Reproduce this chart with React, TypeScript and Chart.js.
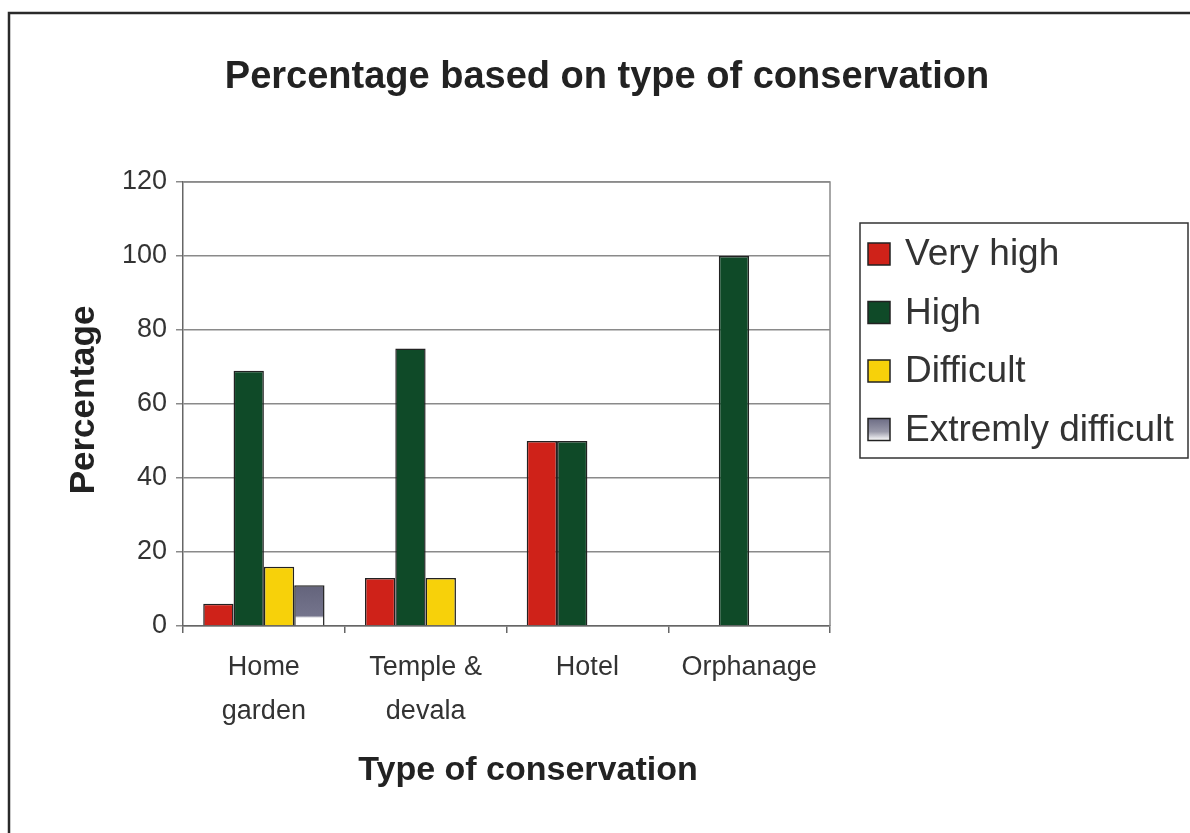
import React, { useEffect, useRef } from "react";
import { Chart, registerables } from "chart.js";

Chart.register(...registerables);

const categories: (string | string[])[] = [["Home", "garden"], ["Temple &", "devala"], "Hotel", "Orphanage"];
const seriesNames = ["Very high", "High", "Difficult", "Extremly difficult"];
const veryHigh = [6, 13, 50, 0];
const high = [69, 75, 50, 100];
const difficult = [16, 13, 0, 0];
const extremelyDifficult = [11, 0, 0, 0];
const yTicks = [0, 20, 40, 60, 80, 100, 120];

const FONT = "'Liberation Sans', Arial, Helvetica, sans-serif";
const colors = ["#cf2219", "#0f4a28", "#f7d10a", "#6c6c84"];

const decorPlugin = {
  id: "decor",
  beforeDraw(chart: any) {
    const { ctx } = chart;
    ctx.save();
    ctx.fillStyle = "#ffffff";
    ctx.fillRect(0, 0, chart.width, chart.height);
    ctx.strokeStyle = "#2a2a2a";
    ctx.lineWidth = 2.5;
    ctx.strokeRect(9, 13, 1200, 840);
    ctx.restore();
  },
  afterDraw(chart: any) {
    const { ctx, chartArea } = chart;
    ctx.save();
    ctx.strokeStyle = "#8a8a8a";
    ctx.lineWidth = 1.5;
    ctx.beginPath();
    ctx.moveTo(chartArea.left, chartArea.top);
    ctx.lineTo(chartArea.right, chartArea.top);
    ctx.lineTo(chartArea.right, chartArea.bottom);
    ctx.stroke();

    ctx.fillStyle = "#222222";
    ctx.textAlign = "center";
    ctx.textBaseline = "middle";
    ctx.font = `bold 38px ${FONT}`;
    ctx.fillText("Percentage based on type of conservation", 607, 78);
    ctx.font = `bold 34px ${FONT}`;
    ctx.fillText("Type of conservation", 528, 771);
    ctx.font = `bold 35px ${FONT}`;
    ctx.save();
    ctx.translate(84, 400);
    ctx.rotate(-Math.PI / 2);
    ctx.fillText("Percentage", 0, 0);
    ctx.restore();

    const lx = 860, ly = 223, lw = 328, lh = 235;
    ctx.strokeStyle = "#333333";
    ctx.lineWidth = 1.5;
    ctx.strokeRect(lx, ly, lw, lh);
    ctx.font = `37px ${FONT}`;
    ctx.textAlign = "left";
    chart.data.datasets.forEach((ds: any, i: number) => {
      const cy = ly + 31 + i * 58.5;
      const sx = lx + 8, sy = cy - 11, ss = 22;
      if (i === 3) {
        const g = ctx.createLinearGradient(0, sy, 0, sy + ss);
        g.addColorStop(0, colors[3]);
        g.addColorStop(0.6, "#9a9aaa");
        g.addColorStop(1, "#ffffff");
        ctx.fillStyle = g;
      } else {
        ctx.fillStyle = colors[i];
      }
      ctx.fillRect(sx, sy, ss, ss);
      ctx.strokeStyle = "#222222";
      ctx.lineWidth = 1.5;
      ctx.strokeRect(sx, sy, ss, ss);
      ctx.fillStyle = "#333333";
      ctx.fillText(ds.label, lx + 45, cy + 1);
    });
    ctx.restore();
  },
};

function grayGradient(context: any) {
  const chart = context.chart;
  const { chartArea, scales } = chart;
  if (!chartArea || context.raw == null) return colors[3];
  const top = scales.y.getPixelForValue(context.raw);
  const bottom = scales.y.getPixelForValue(0);
  if (!(bottom > top)) return colors[3];
  const g = chart.ctx.createLinearGradient(0, top, 0, bottom);
  g.addColorStop(0, "#64647c");
  g.addColorStop(0.75, "#74748c");
  g.addColorStop(0.8, "#ffffff");
  g.addColorStop(1, "#ffffff");
  return g;
}

export default function App() {
  const ref = useRef<HTMLCanvasElement>(null);
  useEffect(() => {
    if (!ref.current) return;
    const dataArrays = [veryHigh, high, difficult, extremelyDifficult];
    const chart = new Chart(ref.current, {
      type: "bar",
      data: {
        labels: categories,
        datasets: dataArrays.map((d, i) => ({
          label: seriesNames[i],
          data: d,
          backgroundColor: i === 3 ? grayGradient : colors[i],
          borderColor: "#222222",
          borderWidth: 1.5,
          categoryPercentage: 0.75,
          barPercentage: 1.0,
        })),
      },
      options: {
        responsive: false,
        animation: false,
        devicePixelRatio: 1,
        layout: { padding: { top: 182, right: 360, left: 0, bottom: 0 } },
        plugins: {
          legend: { display: false },
          title: { display: false },
          tooltip: { enabled: false },
        },
        scales: {
          x: {
            afterFit: (s: any) => { s.height = 207; },
            grid: { drawOnChartArea: false, tickLength: 7, color: "#666666", lineWidth: 1.5 },
            border: { color: "#666666", width: 1.5 },
            ticks: {
              color: "#333333",
              font: { family: FONT, size: 27, lineHeight: 1.63 },
              padding: 13,
              maxRotation: 0,
              autoSkip: false,
            },
          },
          y: {
            min: 0,
            max: 120,
            afterFit: (s: any) => { s.width = 183; },
            afterBuildTicks: (s: any) => { s.ticks = yTicks.map((v) => ({ value: v })); },
            grid: { color: "#8a8a8a", lineWidth: 1.5, tickLength: 7 },
            border: { color: "#666666", width: 1.5 },
            ticks: {
              color: "#333333",
              font: { family: FONT, size: 27 },
              padding: 9,
            },
          },
        },
      },
      plugins: [decorPlugin],
    });
    return () => chart.destroy();
  }, []);
  return (
    <div style={{ position: "absolute", left: 0, top: 0, width: 1190, height: 833, overflow: "hidden", background: "#fff" }}>
      <canvas ref={ref} width={1190} height={833} style={{ width: 1190, height: 833, display: "block" }} />
    </div>
  );
}
